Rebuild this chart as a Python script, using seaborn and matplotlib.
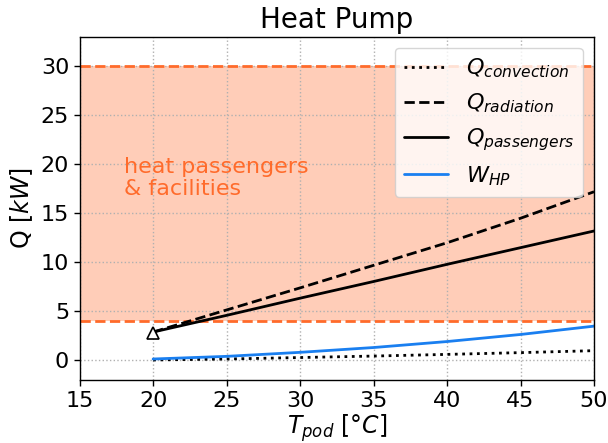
import numpy as np
import pandas as pd
import matplotlib
matplotlib.use("Agg")
import matplotlib.pyplot as plt
import seaborn as sns

# Pod temperature [°C] and heat flows [kW]
t_pod = [20, 25, 30, 35, 40, 45, 50]
q_convection = [0.05, 0.15, 0.30, 0.45, 0.62, 0.80, 1.00]
q_radiation = [2.9, 5.15, 7.4, 9.7, 12.0, 14.5, 17.2]
q_passengers = [2.9, 4.6, 6.35, 8.05, 9.8, 11.5, 13.2]
w_hp = [0.15, 0.42, 0.83, 1.32, 1.93, 2.65, 3.5]

# Heating band for passengers and facilities [kW]
band_low, band_high = 4, 30
start_point = (20, 2.8)

sns.set_style("whitegrid")
plt.rcParams["font.family"] = ["DejaVu Sans"]
plt.rcParams.update({"text.color": "black", "axes.labelcolor": "black",
                     "xtick.color": "black", "ytick.color": "black"})

fig, ax = plt.subplots(figsize=(6.08, 4.43), dpi=100)

band_color = "#ff6b2b"
ax.axhspan(band_low, band_high, color="#ffcdb8", zorder=0, lw=0)
ax.axhline(band_low, color=band_color, ls="--", lw=2, zorder=1)
ax.axhline(band_high, color=band_color, ls="--", lw=2, zorder=1)

df = pd.DataFrame({"T": t_pod, "conv": q_convection, "rad": q_radiation,
                   "pas": q_passengers, "whp": w_hp})

sns.lineplot(data=df, x="T", y="conv", ax=ax, color="black", ls=":", lw=2,
             label=r"$Q_{convection}$")
sns.lineplot(data=df, x="T", y="rad", ax=ax, color="black", ls="--", lw=2,
             label=r"$Q_{radiation}$")
sns.lineplot(data=df, x="T", y="pas", ax=ax, color="black", ls="-", lw=2,
             label=r"$Q_{passengers}$")
sns.lineplot(data=df, x="T", y="whp", ax=ax, color="#1a7ff0", ls="-", lw=2,
             label=r"$W_{HP}$")

ax.plot([start_point[0]], [start_point[1]], marker="^", ms=8, mfc="white",
        mec="black", mew=1.2, ls="none")

ax.text(18, 18.6, "heat passengers\n& facilities", color=band_color,
        fontsize=16, va="center", ha="left", linespacing=1.15)

ax.set_xlim(15, 50)
ax.set_ylim(-2, 33)
ax.set_xticks([15, 20, 25, 30, 35, 40, 45, 50])
ax.set_yticks([0, 5, 10, 15, 20, 25, 30])
ax.tick_params(labelsize=16, length=4, width=1, left=True, bottom=True)
ax.grid(True, ls=":", color="#b0b0b0", lw=1)
for s in ax.spines.values():
    s.set_color("black")
    s.set_linewidth(1)

ax.set_xlabel(r"$T_{pod}$ [$\degree C$]", fontsize=17, labelpad=1)
ax.set_ylabel(r"Q [$kW$]", fontsize=17)
ax.set_title("Heat Pump", fontsize=20)

leg = ax.legend(loc="upper right", fontsize=16, frameon=True, framealpha=0.8,
                handlelength=2.0)
leg.get_frame().set_edgecolor("#cccccc")

fig.subplots_adjust(left=0.131, right=0.977, top=0.917, bottom=0.142)
fig.savefig("out.png", dpi=100)
